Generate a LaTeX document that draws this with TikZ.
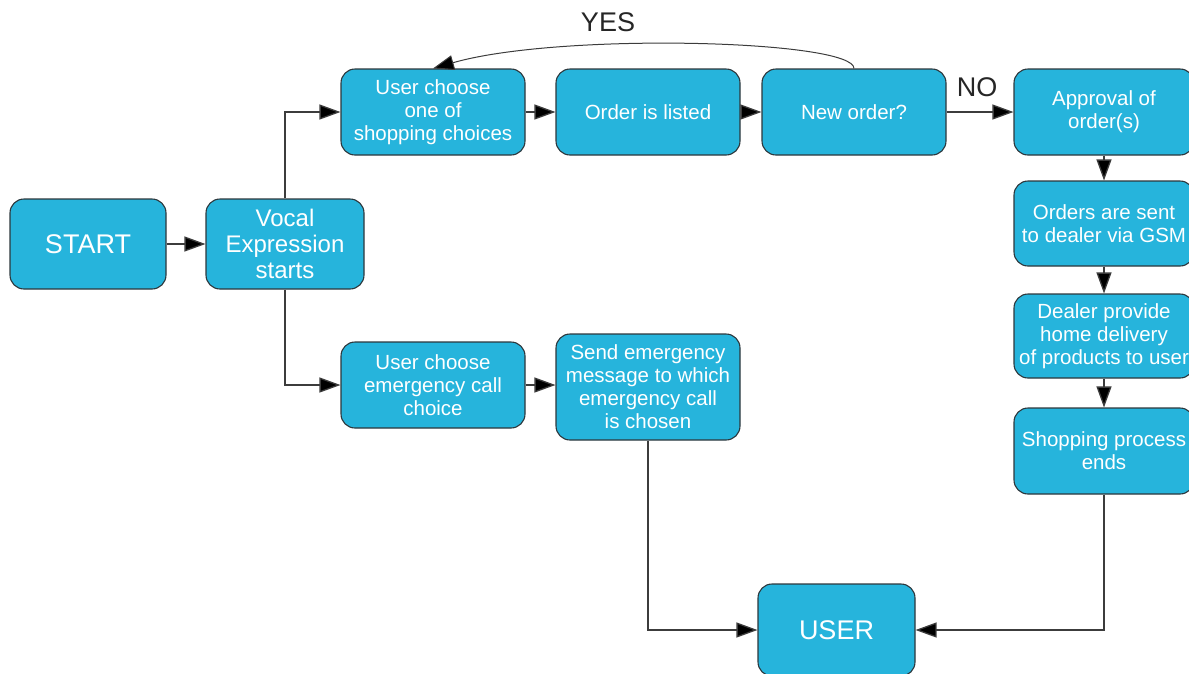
\documentclass[tikz,border=0pt]{standalone}
\usepackage{fontspec}
\setmainfont{Liberation Sans}
\usetikzlibrary{arrows.meta}
\definecolor{boxfill}{RGB}{38,180,220}
\definecolor{boxline}{RGB}{45,55,60}
\definecolor{conline}{RGB}{60,60,60}
\tikzset{
  fbox/.style={draw=boxline, line width=1.1pt, fill=boxfill, rounded corners=14pt,
    text=white, align=center, inner sep=0pt, font=\fontsize{20.5}{23}\selectfont},
  bigbox/.style={fbox, font=\fontsize{24}{26}\selectfont},
  hugebox/.style={fbox, font=\fontsize{27}{30}\selectfont},
  conn/.style={draw=conline, line width=1.3pt, -{Triangle[length=21pt,width=15pt,fill=black]}},
  lbl/.style={font=\fontsize{27}{30}\selectfont, text=black!85}
}
\begin{document}
\begin{tikzpicture}[x=1pt,y=-1pt]
\useasboundingbox (0,0) rectangle (1189,673);
\clip (0,0) rectangle (1189,673);
\node[hugebox, minimum width=156pt, minimum height=90pt] (start) at (88,244) {START};
\node[bigbox, minimum width=158pt, minimum height=90pt] (vocal) at (285,244) {Vocal\\Expression\\starts};
\node[fbox, minimum width=184pt, minimum height=86pt] (shop) at (433,112) {User choose\\one of\\shopping choices};
\node[fbox, minimum width=184pt, minimum height=86pt] (listed) at (648,112) {Order is listed};
\node[fbox, minimum width=184pt, minimum height=86pt] (neworder) at (854,112) {New order?};
\node[fbox, minimum width=180pt, minimum height=86pt] (approval) at (1104,112) {Approval of\\order(s)};
\node[fbox, minimum width=180pt, minimum height=85pt] (sent) at (1104,223.5) {Orders are sent\\to dealer via GSM};
\node[fbox, minimum width=180pt, minimum height=84pt] (dealer) at (1104,336) {Dealer provide\\home delivery\\of products to user};
\node[fbox, minimum width=180pt, minimum height=86pt] (ends) at (1104,451) {Shopping process\\ends};
\node[fbox, minimum width=184pt, minimum height=86pt] (emerg) at (433,385) {User choose\\emergency call\\choice};
\node[fbox, minimum width=184pt, minimum height=106pt] (send) at (648,387) {Send emergency\\message to which\\emergency call\\is chosen};
\node[hugebox, minimum width=157pt, minimum height=92pt] (user) at (836.5,630) {USER};

\node[lbl] (yes) at (608,22) {YES};
\node[lbl] (no) at (977,87) {NO};

\draw[conn] (start) -- (vocal);
\draw[conn] (vocal.north) |- (shop.west);
\draw[conn] (vocal.south) |- (emerg.west);
\draw[conn] (shop) -- (listed);
\draw[conn] (listed) -- (neworder);
\draw[conn] (neworder) -- (approval);
\draw[conn] (approval) -- (sent);
\draw[conn] (sent) -- (dealer);
\draw[conn] (dealer) -- (ends);
\draw[conn] (emerg.east) -- (send.west |- emerg.east);
\draw[conn] (send.south) |- (user.west);
\draw[conn] (ends.south) |- (user.east);
\draw[conn, line width=1pt] (neworder.north) .. controls (854,40) and (560,32) .. (shop.north);
\end{tikzpicture}
\end{document}
